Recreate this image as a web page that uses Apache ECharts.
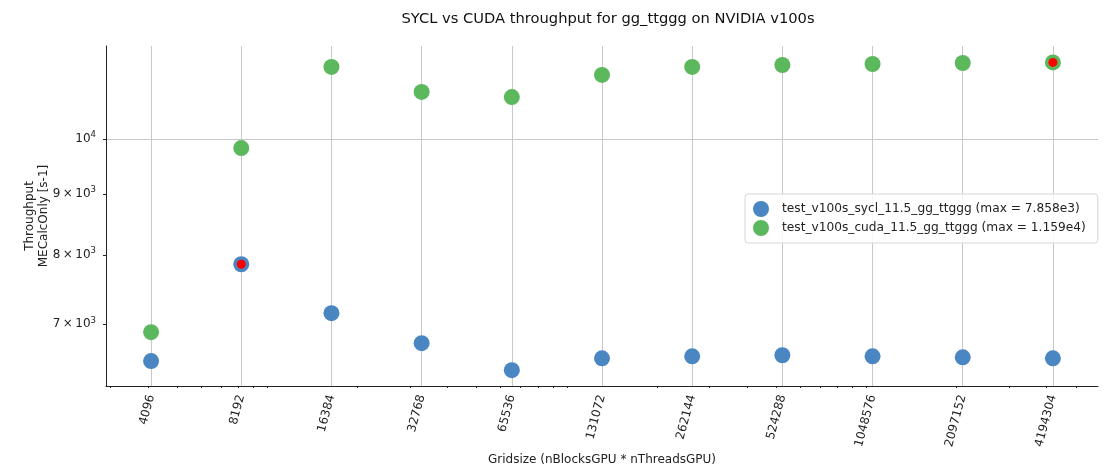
<!DOCTYPE html>
<html>
<head>
<meta charset="utf-8">
<script src="https://cdn.jsdelivr.net/npm/echarts@6/dist/echarts.min.js"></script>
<style>
  html, body { margin: 0; padding: 0; background: #fff; }
  #main { width: 1110px; height: 471px; }
</style>
</head>
<body>
<div id="main"></div>
<script>
// grid sizes (x categories)
var gridsizes = ['4096', '8192', '16384', '32768', '65536', '131072', '262144', '524288', '1048576', '2097152', '4194304'];
// throughput values
var syclValues = [6521, 7858, 7152, 6750, 6408, 6556, 6582, 6595, 6582, 6569, 6556];
var cudaValues = [6895, 9828, 11490, 10949, 10842, 11315, 11490, 11533, 11555, 11577, 11590];
var yTicks = [7000, 8000, 9000, 10000];
// small log10 minor ticks along the x axis
var xMinorTicks = [3000, 4000, 5000, 6000, 7000, 8000, 9000,
  10000, 20000, 30000, 40000, 50000, 60000, 70000, 80000, 90000,
  100000, 200000, 300000, 400000, 500000, 600000, 700000, 800000, 900000,
  1000000, 2000000, 3000000, 4000000, 5000000];
var syclName = 'test_v100s_sycl_11.5_gg_ttggg (max = 7.858e3)';
var cudaName = 'test_v100s_cuda_11.5_gg_ttggg (max = 1.159e4)';

var font = 'DejaVu Sans';

function yLabel(v) {
  if (v === 10000) return '{n|10}{s|4}';
  return '{n|' + Math.round(v / 1000) + '\u2009\u00d7\u200910}{s|3}';
}

var myChart = echarts.init(document.getElementById('main'));
myChart.setOption({
  animation: false,
  textStyle: { fontFamily: font },
  title: {
    text: 'SYCL vs CUDA throughput for gg_ttggg on NVIDIA v100s',
    left: 603, top: 7, textAlign: 'center',
    textStyle: { fontSize: 14.7, fontWeight: 'normal', color: '#111', fontFamily: font }
  },
  grid: { left: 106, right: 12, top: 46, bottom: 85, outerBoundsMode: 'none' },
  legend: {
    orient: 'vertical',
    left: 745, top: 194,
    padding: [7, 12, 7, 8],
    itemGap: 3,
    itemWidth: 16, itemHeight: 16,
    borderColor: '#d6d6d6', borderWidth: 1, borderRadius: 3,
    backgroundColor: 'rgba(255,255,255,0.85)',
    icon: 'circle',
    textStyle: { fontSize: 12.2, color: '#222', fontFamily: font, padding: [0, 0, 0, 8] },
    data: [syclName, cudaName]
  },
  xAxis: [
    {
      type: 'category',
      data: gridsizes,
      boundaryGap: true,
      name: 'Gridsize (nBlocksGPU * nThreadsGPU)',
      nameLocation: 'middle',
      nameGap: 68,
      nameMoveOverlap: false,
      nameTextStyle: { fontSize: 12, color: '#222' },
      axisLine: { lineStyle: { color: '#222', width: 1 } },
      axisTick: { alignWithLabel: true, length: 4, lineStyle: { color: '#222' } },
      axisLabel: { rotate: 75, fontSize: 12, color: '#222', margin: 9 },
      splitLine: { show: true, alignWithLabel: true, lineStyle: { color: '#c8c8c8', width: 1 } }
    },
    {
      // hidden log axis spanning the same range, only for the minor ticks
      type: 'log',
      logBase: 10,
      position: 'bottom',
      offset: 0,
      min: 4096 / Math.SQRT2,
      max: 4194304 * Math.SQRT2,
      axisLine: { show: false },
      axisLabel: { show: false },
      splitLine: { show: false },
      axisTick: { show: true, length: 2, customValues: xMinorTicks, lineStyle: { color: '#222' } }
    }
  ],
  yAxis: {
    type: 'log',
    logBase: 10,
    min: 6216,
    max: 11962,
    name: 'Throughput\nMECalcOnly [s-1]',
    nameLocation: 'middle',
    nameGap: 55,
    nameRotate: 90,
    nameMoveOverlap: false,
    nameTextStyle: { fontSize: 12, color: '#222', lineHeight: 14 },
    axisLine: { show: true, lineStyle: { color: '#222', width: 1 } },
    axisTick: { show: true, length: 3, customValues: yTicks, lineStyle: { color: '#222' } },
    axisLabel: {
      customValues: yTicks,
      formatter: yLabel,
      margin: 10,
      rich: {
        n: { fontSize: 12, color: '#222', fontFamily: font },
        s: { fontSize: 8.5, color: '#222', fontFamily: font, padding: [0, 0, 8, 0] }
      }
    },
    splitLine: { show: false }
  },
  series: [
    {
      name: syclName,
      type: 'scatter',
      data: syclValues,
      symbolSize: 16,
      itemStyle: { color: '#4a86c1', opacity: 1 },
      markPoint: {
        symbol: 'circle', symbolSize: 9,
        itemStyle: { color: '#ff0000' },
        label: { show: false },
        data: [{ type: 'max' }]
      }
    },
    {
      name: cudaName,
      type: 'scatter',
      data: cudaValues,
      symbolSize: 16,
      itemStyle: { color: '#5cb85c', opacity: 1 },
      markPoint: {
        symbol: 'circle', symbolSize: 9,
        itemStyle: { color: '#ff0000' },
        label: { show: false },
        data: [{ type: 'max' }]
      },
      markLine: {
        silent: true, symbol: 'none', z: 0,
        label: { show: false },
        lineStyle: { color: '#c8c8c8', type: 'solid', width: 1 },
        data: [{ yAxis: 10000 }]
      }
    }
  ]
});
</script>
</body>
</html>
